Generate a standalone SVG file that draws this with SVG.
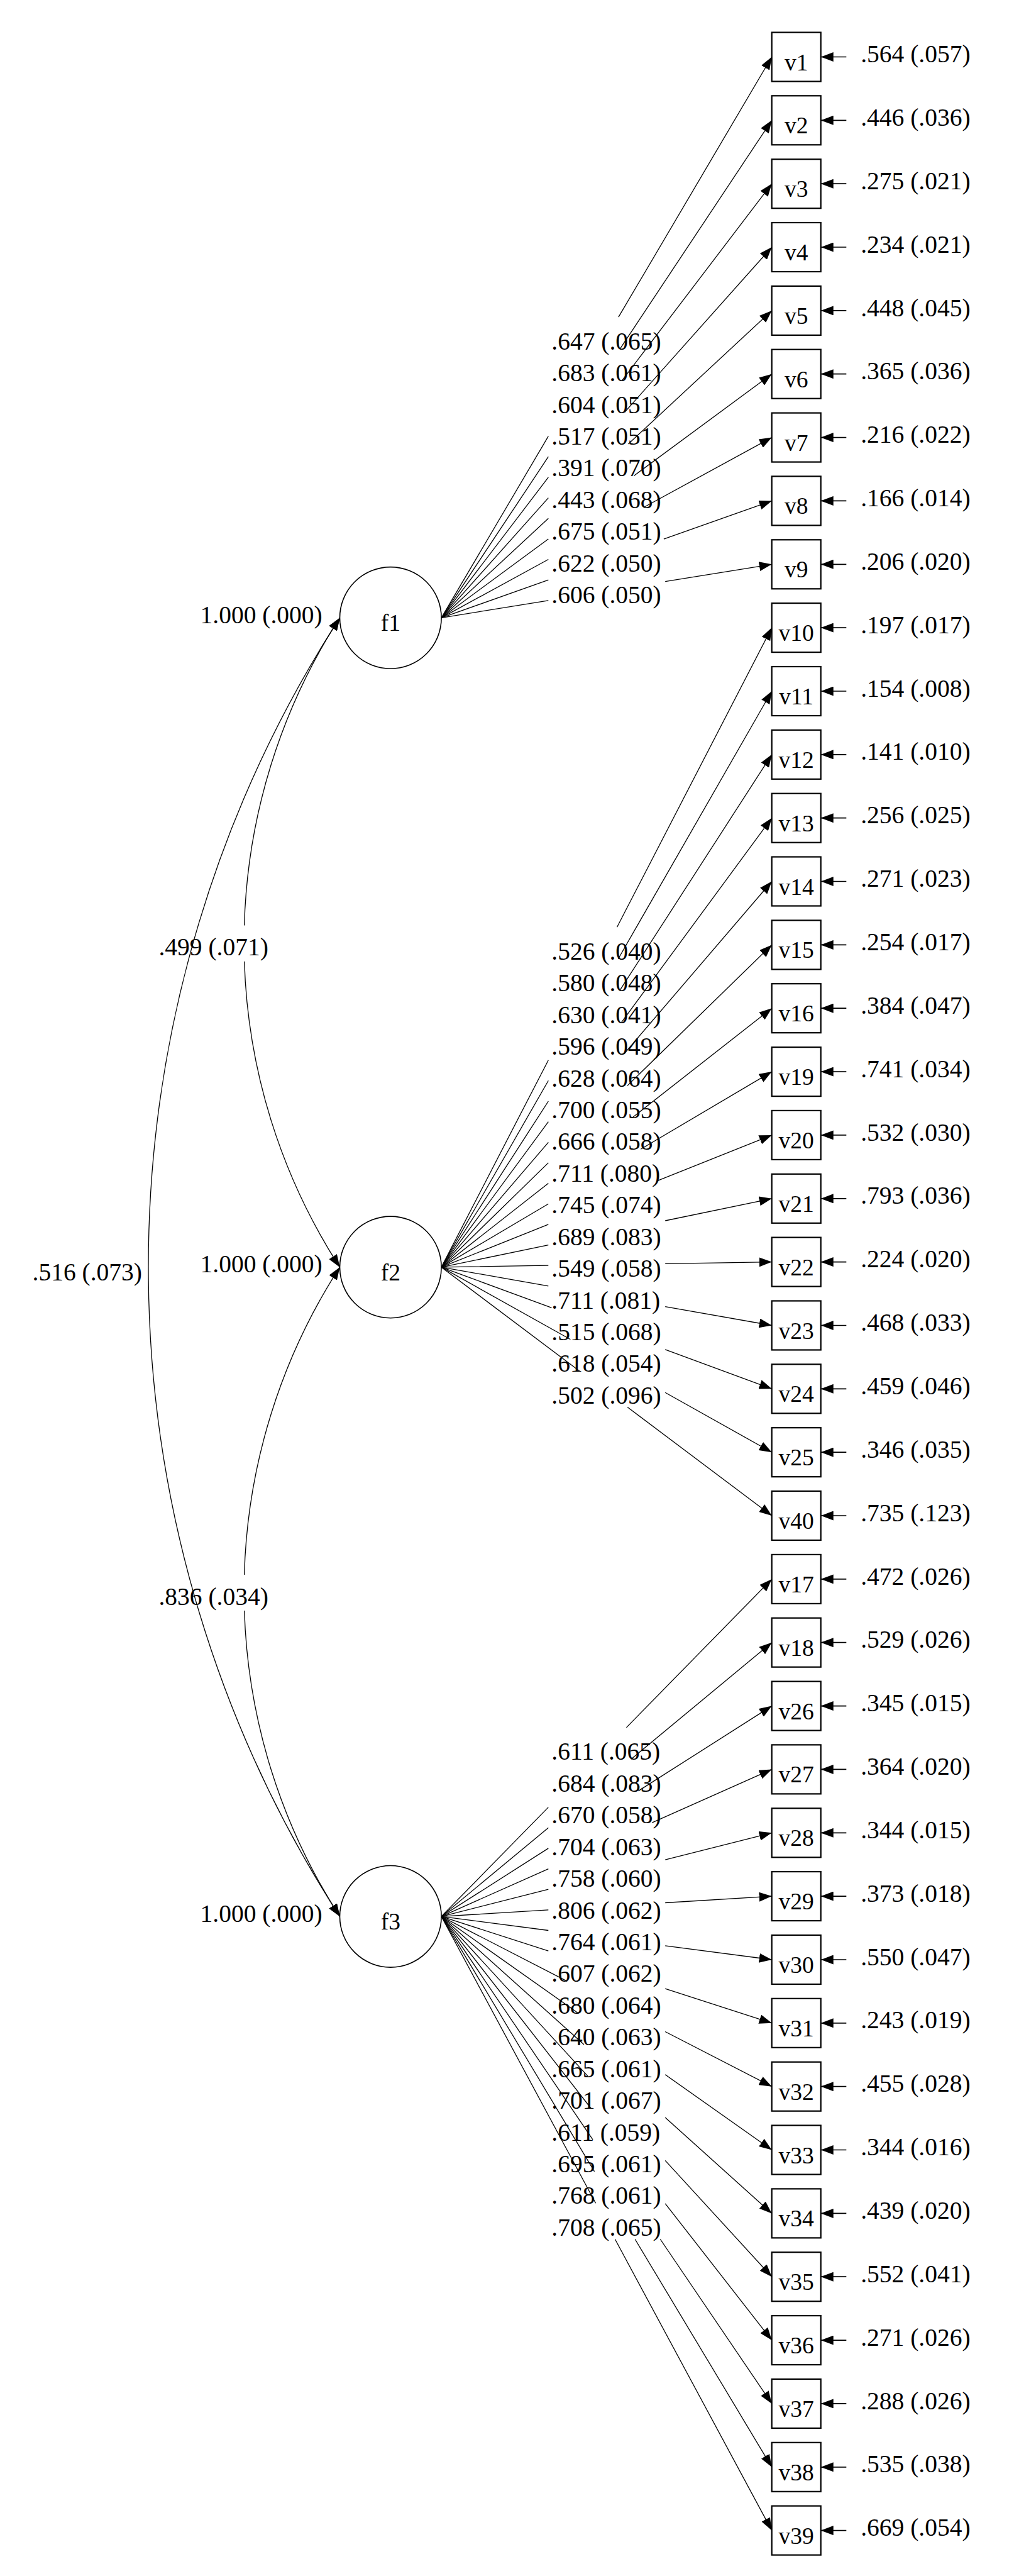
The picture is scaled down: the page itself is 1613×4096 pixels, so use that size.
<svg xmlns="http://www.w3.org/2000/svg" width="1613" height="4096" viewBox="0 0 1613 4096">
<style>
text{font-family:"Liberation Serif","Times New Roman",serif;fill:#000}
.n{font-size:39.5px}
.e{text-anchor:end}
.m{text-anchor:middle}
.bl{font-size:37.5px;text-anchor:middle}
.box{fill:#fff;stroke:#000;stroke-width:2.2}
.fac{fill:#fff;stroke:#000;stroke-width:1.6}
.ln{stroke:#000;stroke-width:1.3;fill:none;marker-end:url(#ah)}
.res{stroke:#000;stroke-width:1.7;fill:none;marker-end:url(#ah)}
.cov{stroke:#000;stroke-width:1.3;fill:none;marker-start:url(#ah);marker-end:url(#ah)}
</style>
<defs>
<marker id="ah" markerUnits="userSpaceOnUse" viewBox="0 0 20 15" markerWidth="20" markerHeight="15" refX="20" refY="7.5" orient="auto-start-reverse"><path d="M0,0L20,7.5L0,15z" fill="#000"/></marker>
</defs>
<rect width="1613" height="4096" fill="#fff"/>
<g id="connectors">
<path class="cov" d="M540.5,982.4A950.9,950.9 0 0 0 388.6,1471.5M388.7,1528.7A950.9,950.9 0 0 0 540.5,2014.9"/>
<path class="cov" d="M540.5,2014.9A950.9,950.9 0 0 0 388.6,2503.9M388.7,2561.1A950.9,950.9 0 0 0 540.5,3047.3"/>
<path class="cov" d="M540.5,982.4A1902.6,1902.6 0 0 0 540.5,3047.3"/>
<path class="ln" d="M702.1,982.4L872.3,693.6M983.9,504.2L1227.7,90.5"/>
<path class="ln" d="M702.1,982.4L872.3,726.2M986.3,554.7L1227.7,191.3"/>
<path class="ln" d="M702.1,982.4L872.3,758.9M989.4,605.1L1227.7,292.2"/>
<path class="ln" d="M702.1,982.4L872.3,791.6M993.6,655.5L1227.7,393.0"/>
<path class="ln" d="M702.1,982.4L872.3,824.2M999.5,705.9L1227.7,493.9"/>
<path class="ln" d="M702.1,982.4L872.3,856.9M1008.5,756.4L1227.7,594.7"/>
<path class="ln" d="M702.1,982.4L872.3,889.5M1023.9,806.8L1227.7,695.6"/>
<path class="ln" d="M702.1,982.4L872.3,922.2M1055.9,857.2L1227.7,796.4"/>
<path class="ln" d="M702.1,982.4L872.3,954.8M1058.2,924.7L1227.7,897.3"/>
<path class="ln" d="M702.1,2014.9L872.3,1685.7M981.5,1474.3L1227.7,998.1"/>
<path class="ln" d="M702.1,2014.9L872.3,1718.3M983.4,1524.7L1227.7,1099.0"/>
<path class="ln" d="M702.1,2014.9L872.3,1751.0M985.7,1575.2L1227.7,1199.8"/>
<path class="ln" d="M702.1,2014.9L872.3,1783.6M988.6,1625.6L1227.7,1300.7"/>
<path class="ln" d="M702.1,2014.9L872.3,1816.3M992.5,1676.0L1227.7,1401.5"/>
<path class="ln" d="M702.1,2014.9L872.3,1848.9M997.9,1726.4L1227.7,1502.4"/>
<path class="ln" d="M702.1,2014.9L872.3,1881.6M1006.0,1776.9L1227.7,1603.2"/>
<path class="ln" d="M702.1,2014.9L872.3,1914.2M1019.3,1827.3L1227.7,1704.1"/>
<path class="ln" d="M702.1,2014.9L872.3,1946.9M1045.5,1877.7L1227.7,1804.9"/>
<path class="ln" d="M702.1,2014.9L872.3,1979.6M1058.2,1941.0L1227.7,1905.8"/>
<path class="ln" d="M702.1,2014.9L872.3,2012.2M1058.2,2009.3L1227.7,2006.6"/>
<path class="ln" d="M702.1,2014.9L872.3,2044.9M1058.2,2077.6L1227.7,2107.5"/>
<path class="ln" d="M702.1,2014.9L877.4,2079.4M1058.2,2145.9L1227.7,2208.3"/>
<path class="ln" d="M702.1,2014.9L907.4,2129.8M1058.2,2214.3L1227.7,2309.2"/>
<path class="ln" d="M702.1,2014.9L922.1,2180.3M998.2,2237.5L1227.7,2410.0"/>
<path class="ln" d="M702.1,3047.3L872.3,2873.6M996.4,2746.9L1227.7,2510.9"/>
<path class="ln" d="M702.1,3047.3L872.3,2906.3M1003.8,2797.3L1227.7,2611.7"/>
<path class="ln" d="M702.1,3047.3L872.3,2938.9M1015.5,2847.7L1227.7,2712.6"/>
<path class="ln" d="M702.1,3047.3L872.3,2971.6M1037.3,2898.2L1227.7,2813.4"/>
<path class="ln" d="M702.1,3047.3L872.3,3004.2M1058.2,2957.2L1227.7,2914.3"/>
<path class="ln" d="M702.1,3047.3L872.3,3036.9M1058.2,3025.5L1227.7,3015.1"/>
<path class="ln" d="M702.1,3047.3L872.3,3069.5M1058.2,3093.8L1227.7,3116.0"/>
<path class="ln" d="M702.1,3047.3L872.3,3102.2M1058.2,3162.1L1227.7,3216.8"/>
<path class="ln" d="M702.1,3047.3L902.3,3150.3M1058.2,3230.5L1227.7,3317.7"/>
<path class="ln" d="M702.1,3047.3L919.3,3200.7M1058.2,3298.8L1227.7,3418.5"/>
<path class="ln" d="M702.1,3047.3L929.0,3251.1M1058.2,3367.1L1227.7,3519.4"/>
<path class="ln" d="M702.1,3047.3L935.4,3301.6M1058.2,3435.4L1227.7,3620.2"/>
<path class="ln" d="M702.1,3047.3L939.8,3352.0M1058.2,3503.8L1227.7,3721.1"/>
<path class="ln" d="M702.1,3047.3L943.1,3402.4M1050.3,3560.5L1227.7,3821.9"/>
<path class="ln" d="M702.1,3047.3L945.6,3452.8M1010.2,3560.5L1227.7,3922.8"/>
<path class="ln" d="M702.1,3047.3L947.6,3503.3M978.4,3560.5L1227.7,4023.6"/>
<path class="res" d="M1346.3,90.5H1305.7"/>
<path class="res" d="M1346.3,191.3H1305.7"/>
<path class="res" d="M1346.3,292.2H1305.7"/>
<path class="res" d="M1346.3,393.0H1305.7"/>
<path class="res" d="M1346.3,493.9H1305.7"/>
<path class="res" d="M1346.3,594.7H1305.7"/>
<path class="res" d="M1346.3,695.6H1305.7"/>
<path class="res" d="M1346.3,796.4H1305.7"/>
<path class="res" d="M1346.3,897.3H1305.7"/>
<path class="res" d="M1346.3,998.1H1305.7"/>
<path class="res" d="M1346.3,1099.0H1305.7"/>
<path class="res" d="M1346.3,1199.8H1305.7"/>
<path class="res" d="M1346.3,1300.7H1305.7"/>
<path class="res" d="M1346.3,1401.5H1305.7"/>
<path class="res" d="M1346.3,1502.4H1305.7"/>
<path class="res" d="M1346.3,1603.2H1305.7"/>
<path class="res" d="M1346.3,1704.1H1305.7"/>
<path class="res" d="M1346.3,1804.9H1305.7"/>
<path class="res" d="M1346.3,1905.8H1305.7"/>
<path class="res" d="M1346.3,2006.6H1305.7"/>
<path class="res" d="M1346.3,2107.5H1305.7"/>
<path class="res" d="M1346.3,2208.3H1305.7"/>
<path class="res" d="M1346.3,2309.2H1305.7"/>
<path class="res" d="M1346.3,2410.0H1305.7"/>
<path class="res" d="M1346.3,2510.9H1305.7"/>
<path class="res" d="M1346.3,2611.7H1305.7"/>
<path class="res" d="M1346.3,2712.6H1305.7"/>
<path class="res" d="M1346.3,2813.4H1305.7"/>
<path class="res" d="M1346.3,2914.3H1305.7"/>
<path class="res" d="M1346.3,3015.1H1305.7"/>
<path class="res" d="M1346.3,3116.0H1305.7"/>
<path class="res" d="M1346.3,3216.8H1305.7"/>
<path class="res" d="M1346.3,3317.7H1305.7"/>
<path class="res" d="M1346.3,3418.5H1305.7"/>
<path class="res" d="M1346.3,3519.4H1305.7"/>
<path class="res" d="M1346.3,3620.2H1305.7"/>
<path class="res" d="M1346.3,3721.1H1305.7"/>
<path class="res" d="M1346.3,3821.9H1305.7"/>
<path class="res" d="M1346.3,3922.8H1305.7"/>
<path class="res" d="M1346.3,4023.6H1305.7"/>
</g>
<g id="f1"><circle class="fac" cx="621.3" cy="982.4" r="80.8"/><text class="bl" x="621.3" y="1003.1">f1</text></g>
<g id="f2"><circle class="fac" cx="621.3" cy="2014.9" r="80.8"/><text class="bl" x="621.3" y="2035.6">f2</text></g>
<g id="f3"><circle class="fac" cx="621.3" cy="3047.3" r="80.8"/><text class="bl" x="621.3" y="3068.0">f3</text></g>
<g id="v1"><rect class="box" x="1227.7" y="51.5" width="78" height="78"/><text class="bl" x="1266.7" y="111.5">v1</text></g>
<g id="v2"><rect class="box" x="1227.7" y="152.3" width="78" height="78"/><text class="bl" x="1266.7" y="212.3">v2</text></g>
<g id="v3"><rect class="box" x="1227.7" y="253.2" width="78" height="78"/><text class="bl" x="1266.7" y="313.2">v3</text></g>
<g id="v4"><rect class="box" x="1227.7" y="354.0" width="78" height="78"/><text class="bl" x="1266.7" y="414.0">v4</text></g>
<g id="v5"><rect class="box" x="1227.7" y="454.9" width="78" height="78"/><text class="bl" x="1266.7" y="514.9">v5</text></g>
<g id="v6"><rect class="box" x="1227.7" y="555.7" width="78" height="78"/><text class="bl" x="1266.7" y="615.7">v6</text></g>
<g id="v7"><rect class="box" x="1227.7" y="656.6" width="78" height="78"/><text class="bl" x="1266.7" y="716.6">v7</text></g>
<g id="v8"><rect class="box" x="1227.7" y="757.4" width="78" height="78"/><text class="bl" x="1266.7" y="817.4">v8</text></g>
<g id="v9"><rect class="box" x="1227.7" y="858.3" width="78" height="78"/><text class="bl" x="1266.7" y="918.3">v9</text></g>
<g id="v10"><rect class="box" x="1227.7" y="959.1" width="78" height="78"/><text class="bl" x="1266.7" y="1019.1">v10</text></g>
<g id="v11"><rect class="box" x="1227.7" y="1060.0" width="78" height="78"/><text class="bl" x="1266.7" y="1120.0">v11</text></g>
<g id="v12"><rect class="box" x="1227.7" y="1160.8" width="78" height="78"/><text class="bl" x="1266.7" y="1220.8">v12</text></g>
<g id="v13"><rect class="box" x="1227.7" y="1261.7" width="78" height="78"/><text class="bl" x="1266.7" y="1321.7">v13</text></g>
<g id="v14"><rect class="box" x="1227.7" y="1362.5" width="78" height="78"/><text class="bl" x="1266.7" y="1422.5">v14</text></g>
<g id="v15"><rect class="box" x="1227.7" y="1463.4" width="78" height="78"/><text class="bl" x="1266.7" y="1523.4">v15</text></g>
<g id="v16"><rect class="box" x="1227.7" y="1564.2" width="78" height="78"/><text class="bl" x="1266.7" y="1624.2">v16</text></g>
<g id="v19"><rect class="box" x="1227.7" y="1665.1" width="78" height="78"/><text class="bl" x="1266.7" y="1725.1">v19</text></g>
<g id="v20"><rect class="box" x="1227.7" y="1765.9" width="78" height="78"/><text class="bl" x="1266.7" y="1825.9">v20</text></g>
<g id="v21"><rect class="box" x="1227.7" y="1866.8" width="78" height="78"/><text class="bl" x="1266.7" y="1926.8">v21</text></g>
<g id="v22"><rect class="box" x="1227.7" y="1967.6" width="78" height="78"/><text class="bl" x="1266.7" y="2027.6">v22</text></g>
<g id="v23"><rect class="box" x="1227.7" y="2068.5" width="78" height="78"/><text class="bl" x="1266.7" y="2128.5">v23</text></g>
<g id="v24"><rect class="box" x="1227.7" y="2169.3" width="78" height="78"/><text class="bl" x="1266.7" y="2229.3">v24</text></g>
<g id="v25"><rect class="box" x="1227.7" y="2270.2" width="78" height="78"/><text class="bl" x="1266.7" y="2330.2">v25</text></g>
<g id="v40"><rect class="box" x="1227.7" y="2371.0" width="78" height="78"/><text class="bl" x="1266.7" y="2431.0">v40</text></g>
<g id="v17"><rect class="box" x="1227.7" y="2471.9" width="78" height="78"/><text class="bl" x="1266.7" y="2531.9">v17</text></g>
<g id="v18"><rect class="box" x="1227.7" y="2572.7" width="78" height="78"/><text class="bl" x="1266.7" y="2632.7">v18</text></g>
<g id="v26"><rect class="box" x="1227.7" y="2673.6" width="78" height="78"/><text class="bl" x="1266.7" y="2733.6">v26</text></g>
<g id="v27"><rect class="box" x="1227.7" y="2774.4" width="78" height="78"/><text class="bl" x="1266.7" y="2834.4">v27</text></g>
<g id="v28"><rect class="box" x="1227.7" y="2875.3" width="78" height="78"/><text class="bl" x="1266.7" y="2935.3">v28</text></g>
<g id="v29"><rect class="box" x="1227.7" y="2976.1" width="78" height="78"/><text class="bl" x="1266.7" y="3036.1">v29</text></g>
<g id="v30"><rect class="box" x="1227.7" y="3077.0" width="78" height="78"/><text class="bl" x="1266.7" y="3137.0">v30</text></g>
<g id="v31"><rect class="box" x="1227.7" y="3177.8" width="78" height="78"/><text class="bl" x="1266.7" y="3237.8">v31</text></g>
<g id="v32"><rect class="box" x="1227.7" y="3278.7" width="78" height="78"/><text class="bl" x="1266.7" y="3338.7">v32</text></g>
<g id="v33"><rect class="box" x="1227.7" y="3379.5" width="78" height="78"/><text class="bl" x="1266.7" y="3439.5">v33</text></g>
<g id="v34"><rect class="box" x="1227.7" y="3480.4" width="78" height="78"/><text class="bl" x="1266.7" y="3540.4">v34</text></g>
<g id="v35"><rect class="box" x="1227.7" y="3581.2" width="78" height="78"/><text class="bl" x="1266.7" y="3641.2">v35</text></g>
<g id="v36"><rect class="box" x="1227.7" y="3682.1" width="78" height="78"/><text class="bl" x="1266.7" y="3742.1">v36</text></g>
<g id="v37"><rect class="box" x="1227.7" y="3782.9" width="78" height="78"/><text class="bl" x="1266.7" y="3842.9">v37</text></g>
<g id="v38"><rect class="box" x="1227.7" y="3883.8" width="78" height="78"/><text class="bl" x="1266.7" y="3943.8">v38</text></g>
<g id="v39"><rect class="box" x="1227.7" y="3984.6" width="78" height="78"/><text class="bl" x="1266.7" y="4044.6">v39</text></g>
<g id="factor-labels" class="n">
<text class="e" x="512.7" y="990.9">1.000 (.000)</text>
<text class="e" x="512.7" y="2023.4">1.000 (.000)</text>
<text class="e" x="512.7" y="3055.8">1.000 (.000)</text>
<text class="m" x="339.6" y="1519.4">.499 (.071)</text>
<text class="m" x="339.6" y="2551.8">.836 (.034)</text>
<text class="e" x="226" y="2035.6">.516 (.073)</text>
</g>
<g id="loading-labels" class="n">
<text x="877.3" y="555.7">.647 (.065)</text>
<text x="877.3" y="606.2">.683 (.061)</text>
<text x="877.3" y="656.6">.604 (.051)</text>
<text x="877.3" y="707.0">.517 (.051)</text>
<text x="877.3" y="757.4">.391 (.070)</text>
<text x="877.3" y="807.9">.443 (.068)</text>
<text x="877.3" y="858.3">.675 (.051)</text>
<text x="877.3" y="908.7">.622 (.050)</text>
<text x="877.3" y="959.1">.606 (.050)</text>
<text x="877.3" y="1525.8">.526 (.040)</text>
<text x="877.3" y="1576.2">.580 (.048)</text>
<text x="877.3" y="1626.7">.630 (.041)</text>
<text x="877.3" y="1677.1">.596 (.049)</text>
<text x="877.3" y="1727.5">.628 (.064)</text>
<text x="877.3" y="1777.9">.700 (.055)</text>
<text x="877.3" y="1828.4">.666 (.058)</text>
<text x="877.3" y="1878.8">.711 (.080)</text>
<text x="877.3" y="1929.2">.745 (.074)</text>
<text x="877.3" y="1979.6">.689 (.083)</text>
<text x="877.3" y="2030.1">.549 (.058)</text>
<text x="877.3" y="2080.5">.711 (.081)</text>
<text x="877.3" y="2130.9">.515 (.068)</text>
<text x="877.3" y="2181.3">.618 (.054)</text>
<text x="877.3" y="2231.8">.502 (.096)</text>
<text x="877.3" y="2798.4">.611 (.065)</text>
<text x="877.3" y="2848.8">.684 (.083)</text>
<text x="877.3" y="2899.2">.670 (.058)</text>
<text x="877.3" y="2949.7">.704 (.063)</text>
<text x="877.3" y="3000.1">.758 (.060)</text>
<text x="877.3" y="3050.5">.806 (.062)</text>
<text x="877.3" y="3100.9">.764 (.061)</text>
<text x="877.3" y="3151.4">.607 (.062)</text>
<text x="877.3" y="3201.8">.680 (.064)</text>
<text x="877.3" y="3252.2">.640 (.063)</text>
<text x="877.3" y="3302.6">.665 (.061)</text>
<text x="877.3" y="3353.1">.701 (.067)</text>
<text x="877.3" y="3403.5">.611 (.059)</text>
<text x="877.3" y="3453.9">.695 (.061)</text>
<text x="877.3" y="3504.3">.768 (.061)</text>
<text x="877.3" y="3554.8">.708 (.065)</text>
</g>
<g id="residual-labels" class="n">
<text x="1369.2" y="99.1">.564 (.057)</text>
<text x="1369.2" y="199.9">.446 (.036)</text>
<text x="1369.2" y="300.8">.275 (.021)</text>
<text x="1369.2" y="401.6">.234 (.021)</text>
<text x="1369.2" y="502.5">.448 (.045)</text>
<text x="1369.2" y="603.3">.365 (.036)</text>
<text x="1369.2" y="704.2">.216 (.022)</text>
<text x="1369.2" y="805.0">.166 (.014)</text>
<text x="1369.2" y="905.9">.206 (.020)</text>
<text x="1369.2" y="1006.7">.197 (.017)</text>
<text x="1369.2" y="1107.6">.154 (.008)</text>
<text x="1369.2" y="1208.4">.141 (.010)</text>
<text x="1369.2" y="1309.3">.256 (.025)</text>
<text x="1369.2" y="1410.1">.271 (.023)</text>
<text x="1369.2" y="1511.0">.254 (.017)</text>
<text x="1369.2" y="1611.8">.384 (.047)</text>
<text x="1369.2" y="1712.7">.741 (.034)</text>
<text x="1369.2" y="1813.5">.532 (.030)</text>
<text x="1369.2" y="1914.4">.793 (.036)</text>
<text x="1369.2" y="2015.2">.224 (.020)</text>
<text x="1369.2" y="2116.1">.468 (.033)</text>
<text x="1369.2" y="2216.9">.459 (.046)</text>
<text x="1369.2" y="2317.8">.346 (.035)</text>
<text x="1369.2" y="2418.6">.735 (.123)</text>
<text x="1369.2" y="2519.5">.472 (.026)</text>
<text x="1369.2" y="2620.3">.529 (.026)</text>
<text x="1369.2" y="2721.2">.345 (.015)</text>
<text x="1369.2" y="2822.0">.364 (.020)</text>
<text x="1369.2" y="2922.9">.344 (.015)</text>
<text x="1369.2" y="3023.7">.373 (.018)</text>
<text x="1369.2" y="3124.6">.550 (.047)</text>
<text x="1369.2" y="3225.4">.243 (.019)</text>
<text x="1369.2" y="3326.3">.455 (.028)</text>
<text x="1369.2" y="3427.1">.344 (.016)</text>
<text x="1369.2" y="3528.0">.439 (.020)</text>
<text x="1369.2" y="3628.8">.552 (.041)</text>
<text x="1369.2" y="3729.7">.271 (.026)</text>
<text x="1369.2" y="3830.5">.288 (.026)</text>
<text x="1369.2" y="3931.4">.535 (.038)</text>
<text x="1369.2" y="4032.2">.669 (.054)</text>
</g>
</svg>
